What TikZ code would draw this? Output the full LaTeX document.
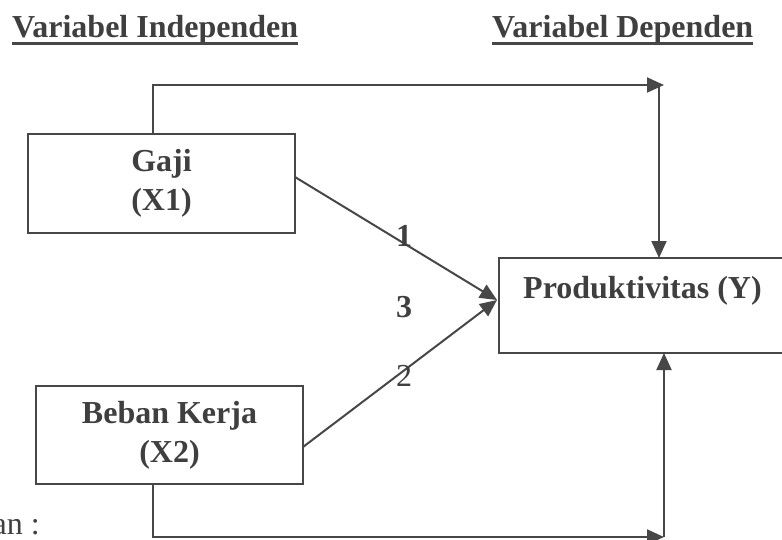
\documentclass[tikz,border=0pt]{standalone}
\usepackage{fontspec}
\setmainfont{Liberation Serif}
\usetikzlibrary{arrows.meta}
\definecolor{ink}{HTML}{474747}
\definecolor{txt}{HTML}{3F3F3F}
\begin{document}
\begin{tikzpicture}[x=1pt,y=-1pt,
  box/.style={draw=ink, line width=2.4pt, rectangle, inner sep=0pt, outer sep=0pt, align=center, text=txt, font=\fontsize{32}{39}\selectfont\bfseries},
  conn/.style={draw=ink, line width=2pt},
  arr/.style={conn, -{Triangle[length=17pt,width=15pt]}},
  lbl/.style={text=txt, font=\fontsize{32}{39}\selectfont\bfseries, inner sep=0pt},
  reg/.style={text=txt, font=\fontsize{32}{39}\selectfont, inner sep=0pt},
  ul/.style={draw=ink, line width=3pt},
]
\useasboundingbox (0,0) rectangle (782,539);
% titles
\node[lbl, anchor=base west] (ti) at (12,37) {Variabel Independen};
\draw[ul] ([yshift=-6pt]ti.base west) -- ([yshift=-6pt]ti.base east);
\node[lbl, anchor=base west] (td) at (492,37) {Variabel Dependen};
\draw[ul] ([yshift=-6pt]td.base west) -- ([yshift=-6pt]td.base east);
% boxes
\node[box, minimum width=267pt, minimum height=99pt] (X1) at (161.5,183.5) {Gaji\\(X1)};
\node[box, minimum width=267pt, minimum height=98pt] (X2) at (169.5,435) {\raisebox{-5pt}{\parbox{200pt}{\centering Beban Kerja\\(X2)}}};
\node[box, minimum width=292pt, minimum height=95pt] (Y) at (645,305.5) {};
\node[lbl, anchor=base west] (Yt) at (523,298) {Produktivitas (Y)};
% coordinates for the elbow connectors
\coordinate (t1) at (153,85);
\coordinate (t2) at (664,85);
\coordinate (t3) at (659,85);
\coordinate (b1) at (153,537);
\coordinate (b2) at (664,537);
\coordinate (m) at (497,300);
% connectors
\draw[arr] (X1.north -| t1) -- (t1) -- (t2);
\draw[arr] (t3) -- (Y.north -| t3);
\draw[arr] (X2.south -| b1) -- (b1) -- (b2);
\draw[arr] (b2) -- (Y.south -| b2);
\draw[arr] ([yshift=6.5pt]X1.east) -- (m);
\draw[arr] ([yshift=-12pt]X2.east) -- (m);
% path labels
\node[lbl] (l1) at (404,236) {1};
\node[lbl] (l3) at (404,307) {3};
\node[reg] (l2) at (404,376) {2};
% cut-off note
\node[reg, anchor=base east] (ket) at (40,534) {an :};
\end{tikzpicture}
\end{document}
